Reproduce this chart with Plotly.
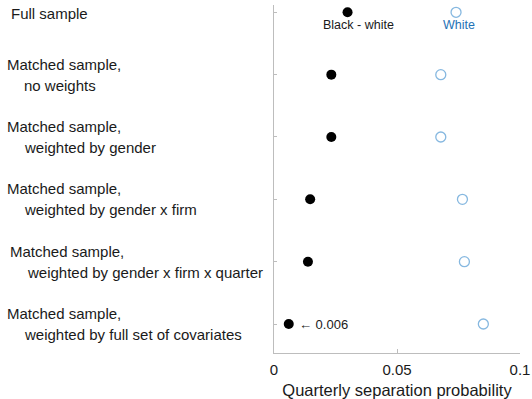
import plotly.graph_objects as go

# Rows, top to bottom
row_titles = [
    ["Full sample"],
    ["Matched sample,", "no weights"],
    ["Matched sample,", "weighted by gender"],
    ["Matched sample,", "weighted by gender x firm"],
    ["Matched sample,", "weighted by gender x firm x quarter"],
    ["Matched sample,", "weighted by full set of covariates"],
]
black_white_gap = [0.0299, 0.0233, 0.0233, 0.0147, 0.0138, 0.006]
white_rate = [0.0740, 0.0678, 0.0678, 0.0766, 0.0774, 0.0851]
x_ticks = [0, 0.05, 0.1]
x_tick_labels = ["0", "0.05", "0.1"]

FONT = "Liberation Sans, Arial, Helvetica, sans-serif"
TXT = "#1a1a1a"
AXIS = "#bdbdbd"
BLUE_TXT = "#1f72b6"
BLUE_EDGE = "#86b8e0"

L, R, T, B = 274, 12, 5, 46
W = 532 - L - R
rows = list(range(len(row_titles)))

fig = go.Figure()
fig.add_trace(go.Scatter(
    x=white_rate, y=rows, mode="markers", cliponaxis=False,
    marker=dict(symbol="circle-open", size=10, color=BLUE_EDGE, line=dict(width=1.3)),
    hoverinfo="skip", showlegend=False,
))
fig.add_trace(go.Scatter(
    x=black_white_gap, y=rows, mode="markers", cliponaxis=False,
    marker=dict(symbol="circle", size=10, color="black", line=dict(width=0)),
    hoverinfo="skip", showlegend=False,
))

annotations = []
# Left-hand row titles: first line flush, second line indented
first_x = [8.5, 5, 5, 5, 7.5, 5]
second_x = [None, 22.5, 22.5, 22.5, 25, 22.5]
for i, lines in enumerate(row_titles):
    if len(lines) == 1:
        annotations.append(dict(
            x=(first_x[i] - L) / W, xref="paper", y=i, yref="y", yshift=-1,
            text=lines[0], showarrow=False, xanchor="left", yanchor="middle",
            font=dict(size=15, color=TXT, family=FONT)))
    else:
        annotations.append(dict(
            x=(first_x[i] - L) / W, xref="paper", y=i, yref="y", yshift=10.5,
            text=lines[0], showarrow=False, xanchor="left", yanchor="middle",
            font=dict(size=15, color=TXT, family=FONT)))
        annotations.append(dict(
            x=(second_x[i] - L) / W, xref="paper", y=i, yref="y", yshift=-10.5,
            text=lines[1], showarrow=False, xanchor="left", yanchor="middle",
            font=dict(size=15, color=TXT, family=FONT)))

# Series labels under the first row
annotations.append(dict(
    x=black_white_gap[0], y=0, xshift=11, yshift=-12.7, text="Black - white",
    showarrow=False, xanchor="center", yanchor="middle",
    font=dict(size=12.5, color=TXT, family=FONT)))
annotations.append(dict(
    x=white_rate[0], y=0, xshift=3, yshift=-12.7, text="White",
    showarrow=False, xanchor="center", yanchor="middle",
    font=dict(size=12.5, color=BLUE_TXT, family=FONT)))
# Value callout for the last row
annotations.append(dict(
    x=black_white_gap[-1], y=rows[-1], xshift=8, text="\u2190 %.3f" % black_white_gap[-1],
    showarrow=False, xanchor="left", yanchor="middle",
    font=dict(size=13, color=TXT, family=FONT)))

fig.update_layout(
    width=532, height=399,
    margin=dict(l=L, r=R, t=T, b=B),
    paper_bgcolor="white", plot_bgcolor="white",
    annotations=annotations,
    xaxis=dict(
        range=[0, 0.1], tickvals=x_ticks, ticktext=x_tick_labels, automargin=False,
        showgrid=False, zeroline=False, showline=True, linecolor=AXIS, linewidth=1,
        ticks="inside", ticklen=4, tickcolor=AXIS, ticklabelstandoff=3,
        tickfont=dict(size=15, color=TXT, family=FONT),
        title=dict(text="Quarterly separation probability", standoff=7,
                   font=dict(size=16.5, color=TXT, family=FONT)),
    ),
    yaxis=dict(
        range=[5.465, -0.117], tickvals=rows, showticklabels=False, automargin=False,
        showgrid=False, zeroline=False, showline=True, linecolor=AXIS, linewidth=1,
        ticks="inside", ticklen=3, tickcolor=AXIS,
    ),
)

fig.write_html("out.html")
